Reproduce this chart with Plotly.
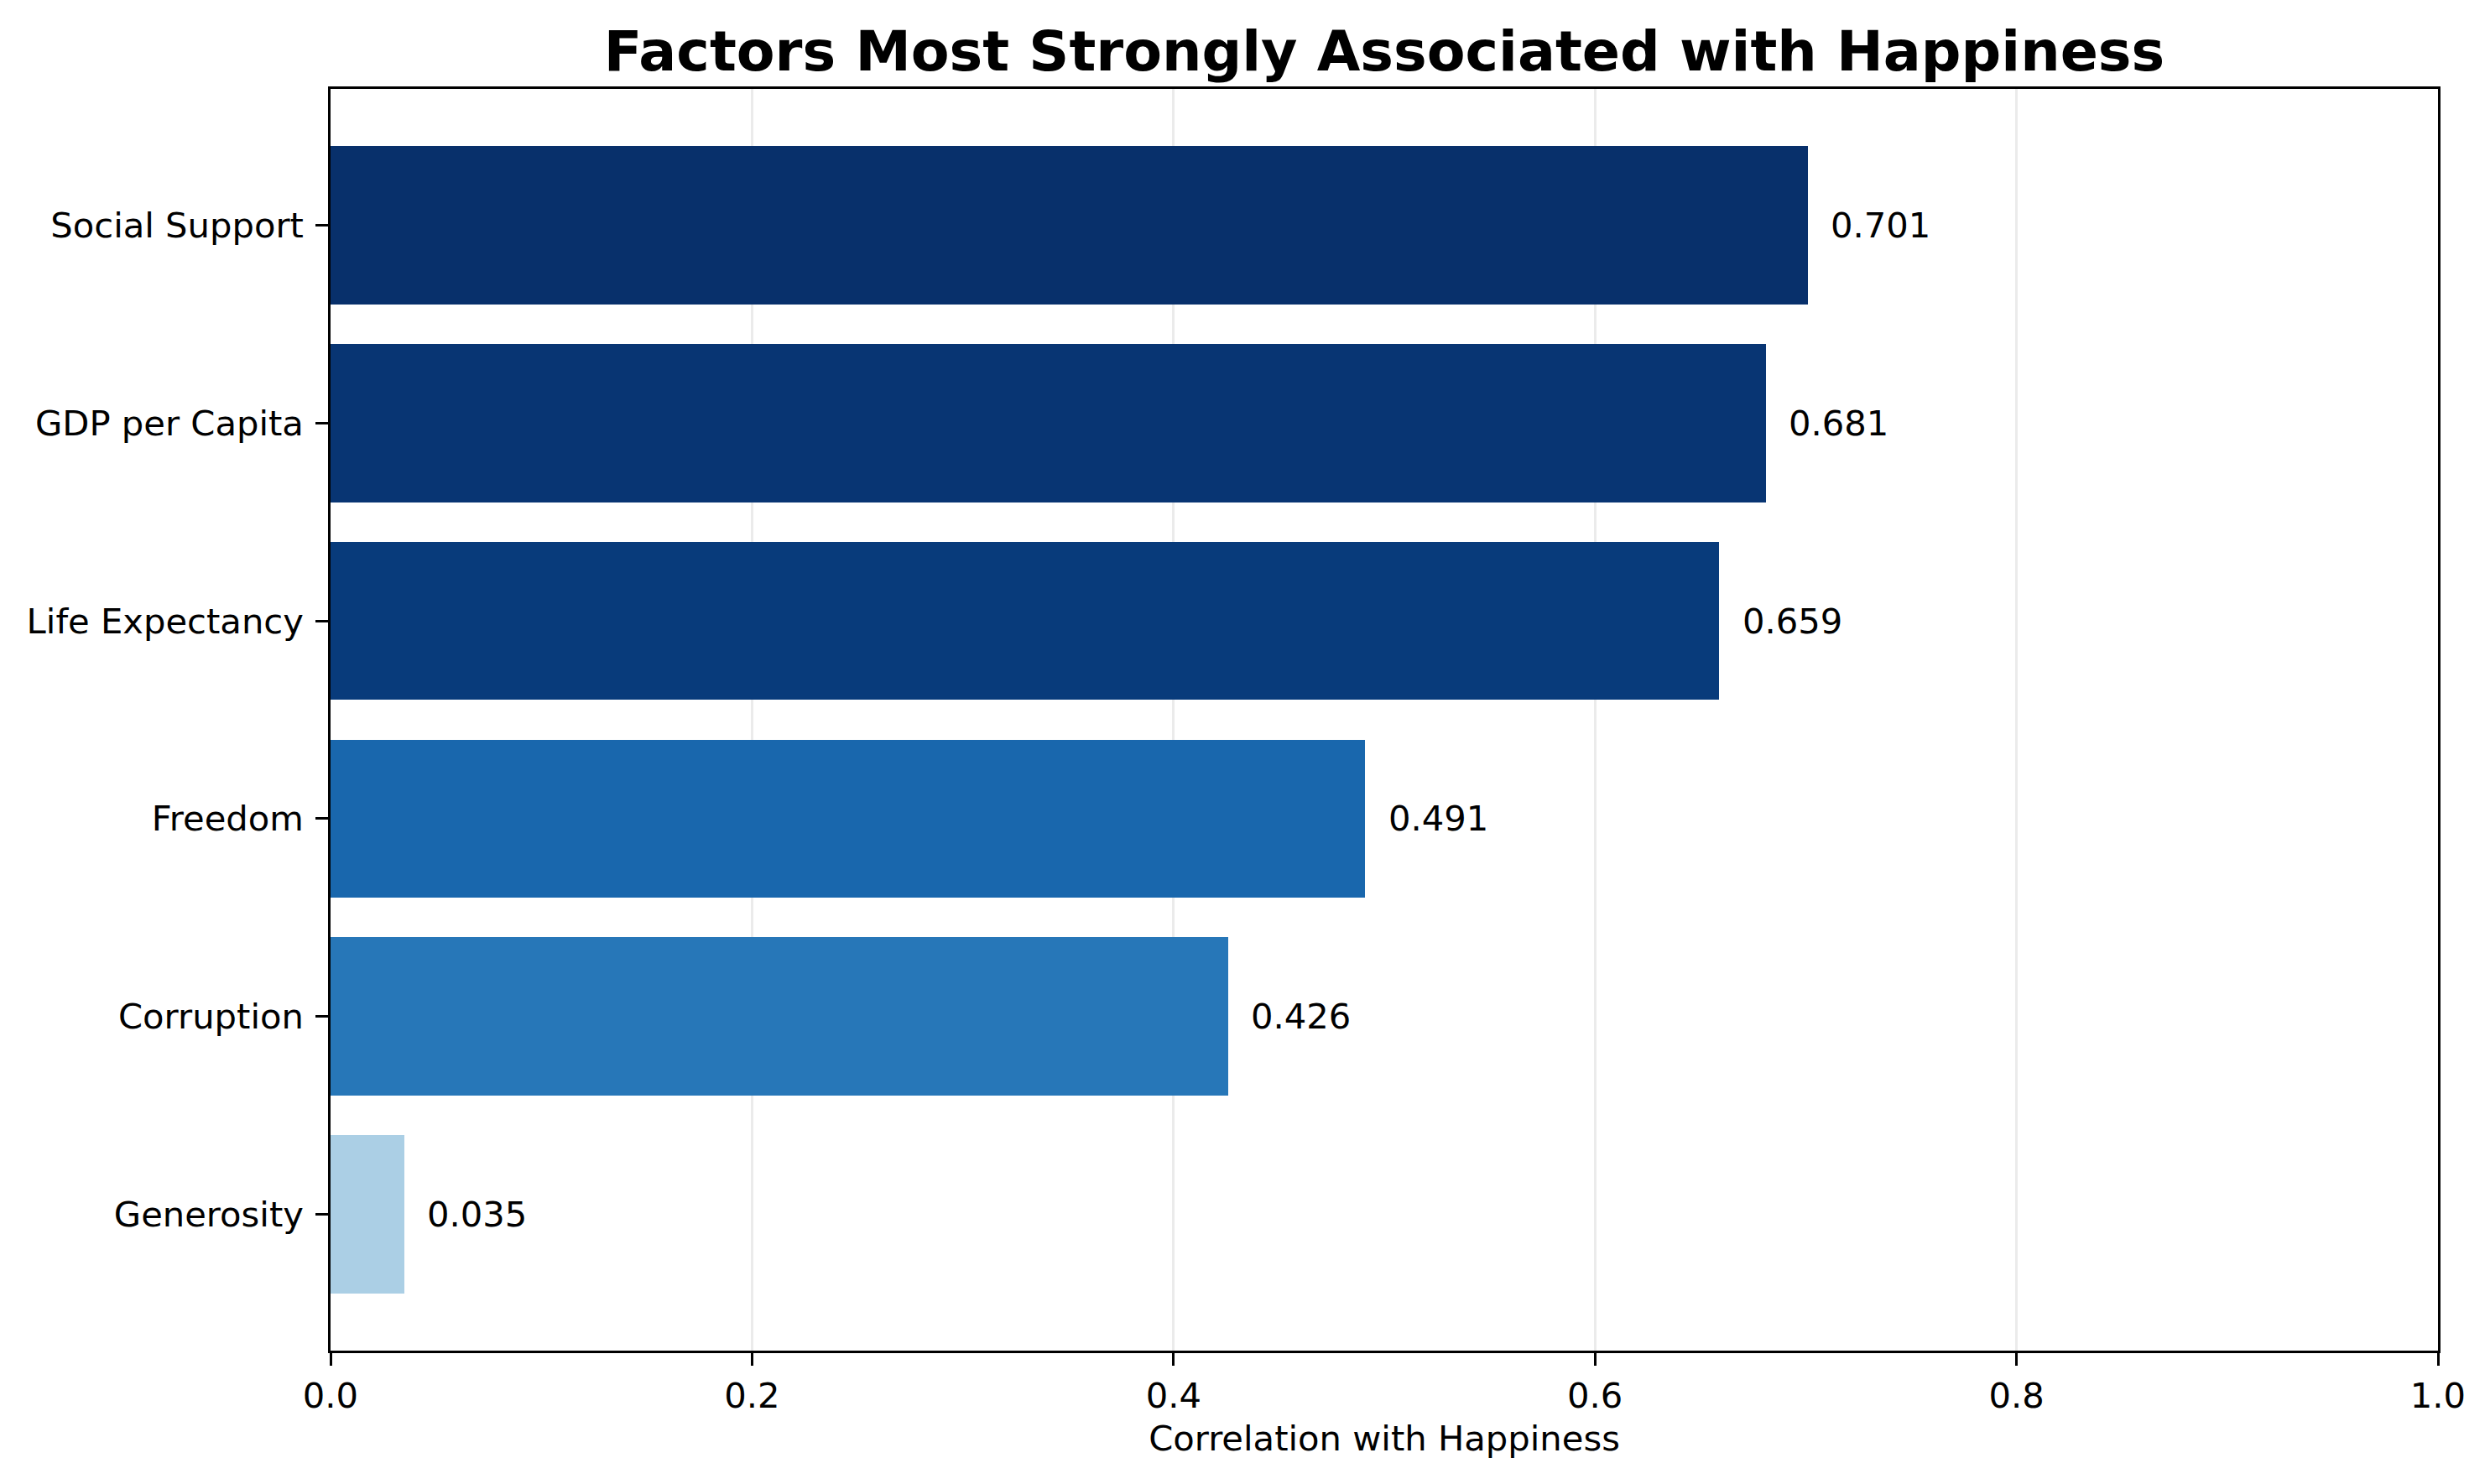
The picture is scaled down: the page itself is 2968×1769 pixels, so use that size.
import plotly.graph_objects as go

factors = ["Generosity", "Corruption", "Freedom", "Life Expectancy", "GDP per Capita", "Social Support"]
correlations = [0.035, 0.426, 0.491, 0.659, 0.681, 0.701]
bar_colors = ["#abcfe5", "#2777b8", "#1967ad", "#083b7b", "#083573", "#08306b"]
x_ticks = [0.0, 0.2, 0.4, 0.6, 0.8, 1.0]

W, H = 2968, 1769
L, R, T, B = 394, 62, 106, 159
FONT = "DejaVu Sans"

positions = list(range(len(factors)))

fig = go.Figure()
fig.add_trace(go.Bar(
    x=correlations, y=positions, orientation="h", width=0.8,
    marker=dict(color=bar_colors, line=dict(width=0)),
    hoverinfo="skip", showlegend=False,
))

for p, v in zip(positions, correlations):
    fig.add_annotation(x=v + 0.01, y=p, text=f"{v:.3f}", showarrow=False,
                       xanchor="left", yanchor="middle",
                       font=dict(family=FONT, size=41.7, color="black"))

fig.update_layout(
    width=W, height=H,
    margin=dict(l=L, r=R, t=T, b=B, pad=0),
    paper_bgcolor="white", plot_bgcolor="white",
    font=dict(family=FONT, size=41.7, color="black"),
    title=dict(text="<b>Factors Most Strongly Associated with Happiness</b>",
               x=(L + (W - L - R) / 2) / W, xanchor="center",
               y=1 - 61 / H, yanchor="middle",
               font=dict(family=FONT, size=66.7, color="black")),
    bargap=0,
)

fig.update_xaxes(
    range=[0, 1], tickvals=x_ticks, ticktext=[f"{t:.1f}" for t in x_ticks],
    showgrid=True, gridcolor="rgba(176,176,176,0.25)", gridwidth=3.3,
    showline=True, linecolor="black", linewidth=3.3, mirror=True,
    ticks="outside", ticklen=14.6, tickwidth=3.3, tickcolor="black",
    zeroline=False, layer="above traces",
    title=dict(text="Correlation with Happiness", standoff=14,
               font=dict(family=FONT, size=41.7, color="black")),
    tickfont=dict(family=FONT, size=41.7, color="black"),
)
fig.update_yaxes(
    range=[-0.69, 5.69], tickvals=positions, ticktext=factors,
    showgrid=False, zeroline=False,
    showline=True, linecolor="black", linewidth=3.3, mirror=True,
    ticks="outside", ticklen=14.6, tickwidth=3.3, tickcolor="black",
    layer="above traces", ticklabelstandoff=6,
    tickfont=dict(family=FONT, size=41.7, color="black"),
)

fig.write_html("out.html")
